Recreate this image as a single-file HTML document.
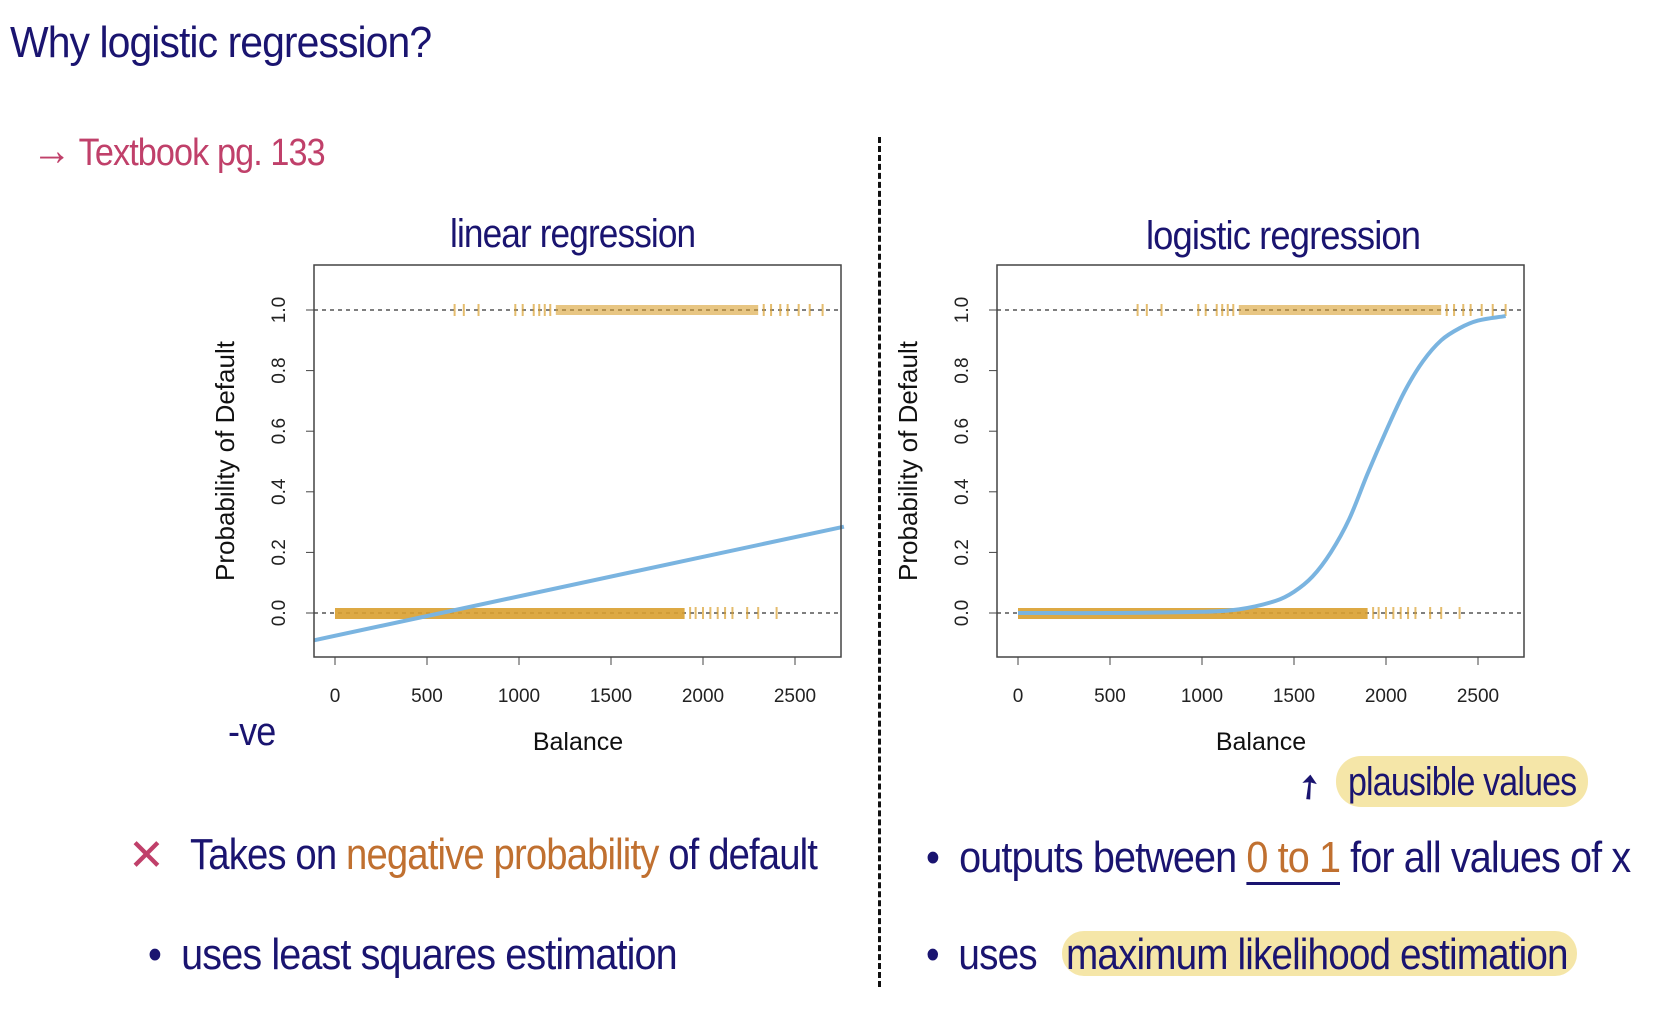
<!DOCTYPE html>
<html><head><meta charset="utf-8"><style>
body{margin:0;width:1674px;height:1027px;background:#fff;overflow:hidden;position:relative;font-family:"Liberation Sans",sans-serif}
.hw{position:absolute;font-family:"Liberation Sans Narrow","Liberation Sans",sans-serif;color:#1a1470;white-space:nowrap;transform-origin:left center;letter-spacing:-1px}
</style></head><body>
<div class="hw" style="left:10px;top:18px;font-size:44px;transform:scaleX(.93)">Why logistic regression?</div>
<div class="hw" style="left:32px;top:126px;font-size:38px;color:#c0406a;transform:scaleX(.9)"><span style="font-size:44px">→</span> Textbook pg. 133</div>
<div style="position:absolute;left:878px;top:137px;height:850px;border-left:3px dashed #111"></div>
<div class="hw" style="left:450px;top:212px;font-size:40px;transform:scaleX(.88)">linear regression</div>
<div class="hw" style="left:1146px;top:214px;font-size:40px;transform:scaleX(.91)">logistic regression</div>
<div class="hw" style="left:228px;top:710px;font-size:40px;transform:scaleX(.9)">-ve</div>
<svg id="chart" width="1674" height="1027" style="position:absolute;left:0;top:0"></svg>
<div style="position:absolute;left:1336px;top:756px;width:252px;height:51px;background:#f5e6a8;border-radius:25px"></div>
<div class="hw" style="left:1348px;top:760px;font-size:40px;transform:scaleX(.85)">plausible values</div>
<div class="hw" style="left:1298px;top:776px;font-size:34px;transform:rotate(-40deg)">➚</div>
<div style="position:absolute;left:1062px;top:931px;width:515px;height:45px;background:#f5e6a8;border-radius:22px"></div>
<div class="hw" style="left:128px;top:830px;font-size:44px;color:#c0406a">✕</div>
<div class="hw" style="left:190px;top:830px;font-size:44px;transform:scaleX(.87)">Takes on <span style="color:#c07030">negative probability</span> of default</div>
<div class="hw" style="left:148px;top:930px;font-size:44px;transform:scaleX(.9)">•&nbsp; uses least squares estimation</div>
<div class="hw" style="left:926px;top:833px;font-size:44px;transform:scaleX(.9)">•&nbsp; outputs between <span style="color:#c07030;border-bottom:3px solid #1a1470">0 to 1</span> for all values of x</div>
<div class="hw" style="left:926px;top:930px;font-size:44px;transform:scaleX(.88)">•&nbsp; uses</div>
<div class="hw" style="left:1066px;top:930px;font-size:44px;transform:scaleX(.88)">maximum likelihood estimation</div>
<script>
const xTicks=[0,500,1000,1500,2000,2500];
const yTicks=[0.0,0.2,0.4,0.6,0.8,1.0];
const yTickLabels=["0.0","0.2","0.4","0.6","0.8","1.0"];
const linBalance=[-114,2766];
const linProb=[-0.09,0.285];
const logBalance=[0,500,1000,1200,1400,1500,1600,1700,1800,1900,2000,2100,2200,2300,2400,2500,2650];
const logProb=[0,0,0.004,0.012,0.04,0.07,0.12,0.2,0.31,0.46,0.6,0.73,0.83,0.9,0.94,0.965,0.98];
const yesBand=[1200,2300];
const yesSparse=[650,700,780,980,1020,1080,1110,1140,1170,2330,2370,2420,2460,2520,2580,2650];
const noBand=[0,1900];
const noSparse=[1930,1960,2000,2040,2080,2120,2160,2240,2300,2400];
const NS="http://www.w3.org/2000/svg";
const svg=document.getElementById('chart');
function mk(t,a,p){const e=document.createElementNS(NS,t);for(const k in a)e.setAttribute(k,a[k]);(p||svg).appendChild(e);return e;}
function panel(L,name,lineX,lineY,smooth){
  const W=527,R=L+W,T=265,B=657;
  const sx=v=>L+21+(v-0)*(460/2500);
  const sy=v=>613-v*303;
  const g=mk('g',{});
  
  
  [0,1].forEach(v=>{const l=mk('line',{x1:L,x2:R,y1:sy(v),y2:sy(v),stroke:'#333','stroke-width':1.3,'stroke-dasharray':'4,4'},g);
    });
  const c='#d9a030';
  const b1=mk('rect',{x:sx(yesBand[0]),width:sx(yesBand[1])-sx(yesBand[0]),y:sy(1)-5,height:10,fill:c,opacity:.6},g);
  
  yesSparse.forEach(v=>{const t=mk('line',{x1:sx(v),x2:sx(v),y1:sy(1)-6,y2:sy(1)+6,stroke:c,'stroke-width':2,opacity:.7},g);
    });
  const b0=mk('rect',{x:sx(noBand[0]),width:sx(noBand[1])-sx(noBand[0]),y:sy(0)-5,height:11,fill:c,opacity:.9},g);
  
  noSparse.forEach(v=>{const t=mk('line',{x1:sx(v),x2:sx(v),y1:sy(0)-6,y2:sy(0)+6,stroke:c,'stroke-width':2,opacity:.7},g);
    });
  let d='M'+sx(lineX[0])+','+sy(lineY[0]);
  for(let i=1;i<lineX.length;i++){
    if(smooth){const x0=sx(lineX[i-1]),x1=sx(lineX[i]),y0=sy(lineY[i-1]),y1=sy(lineY[i]);
      const m0=i>1?(sy(lineY[i])-sy(lineY[i-2]))/(sx(lineX[i])-sx(lineX[i-2])):(y1-y0)/(x1-x0);
      const m1=i<lineX.length-1?(sy(lineY[i+1])-sy(lineY[i-1]))/(sx(lineX[i+1])-sx(lineX[i-1])):(y1-y0)/(x1-x0);
      const h=(x1-x0)/3;d+=' C'+(x0+h)+','+(y0+m0*h)+' '+(x1-h)+','+(y1-m1*h)+' '+x1+','+y1;}
    else d+=' L'+sx(lineX[i])+','+sy(lineY[i]);
  }
  const p=mk('path',{d:d,fill:'none',stroke:'#7ab4e0','stroke-width':4},g);
  
  const box=mk('rect',{x:L,y:T,width:W,height:B-T,fill:'none',stroke:'#444','stroke-width':1.5},g);
  
  mk('line',{x1:sx(xTicks[0]),x2:sx(xTicks[xTicks.length-1]),y1:B,y2:B,stroke:'#444'},g);
  xTicks.forEach(v=>{mk('line',{x1:sx(v),x2:sx(v),y1:B,y2:B+8,stroke:'#444'},g);
    const t=mk('text',{x:sx(v),y:702,'text-anchor':'middle','font-size':19,fill:'#222'},g);t.textContent=v;
    });
  yTicks.forEach((v,i)=>{mk('line',{x1:L-8,x2:L,y1:sy(v),y2:sy(v),stroke:'#444'},g);
    const t=mk('text',{x:0,y:0,'text-anchor':'middle','font-size':19,fill:'#222',transform:'translate('+(L-29)+','+sy(v)+') rotate(-90)'},g);t.textContent=yTickLabels[i];
    });
  const xt=mk('text',{x:L+264,y:750,'text-anchor':'middle','font-size':25,fill:'#111'},g);xt.textContent='Balance';
  
  const yt=mk('text',{x:0,y:0,'text-anchor':'middle','font-size':26,fill:'#111',transform:'translate('+(L-80)+',461) rotate(-90)'},g);yt.textContent='Probability of Default';
  
}
panel(314,'linear-regression-chart',linBalance,linProb,false);
panel(997,'logistic-regression-chart',logBalance,logProb,true);
</script>
</body></html>
